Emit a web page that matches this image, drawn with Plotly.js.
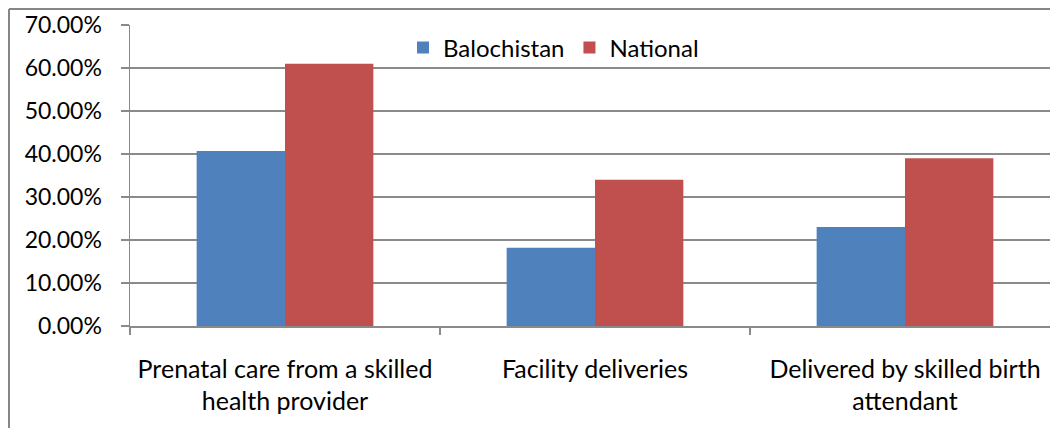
<!DOCTYPE html>
<html>
<head>
<meta charset="utf-8">
<script src="https://cdn.plot.ly/plotly-3.0.1.min.js"></script>
<style>
  html, body { margin: 0; padding: 0; background: #fff; }
  #chart { width: 1050px; height: 428px; }
</style>
</head>
<body>
<div id="chart"></div>
<script>
const categories = [
  "Prenatal care from a skilled<br>health provider",
  "Facility deliveries",
  "Delivered by skilled birth<br>attendant"
];
const balochistan = [0.407, 0.182, 0.230];
const national = [0.610, 0.340, 0.390];
const seriesNames = ["Balochistan", "National"];
const yTicks = [0, 0.1, 0.2, 0.3, 0.4, 0.5, 0.6, 0.7];

const FONT = "Lato, 'Open Sans', sans-serif";
const GRID = "#8a8a8a";

const traces = [
  { type: "bar", name: seriesNames[0], x: categories, y: balochistan,
    marker: { color: "#4F81BD", line: { width: 0 } }, hoverinfo: "skip" },
  { type: "bar", name: seriesNames[1], x: categories, y: national,
    marker: { color: "#C0504D", line: { width: 0 } }, hoverinfo: "skip" }
];

const L = 130, R = 0, T = 25, B = 102;
const W = 1050, H = 428;
const pw = W - L - R, ph = H - T - B;

const layout = {
  width: W, height: H,
  margin: { l: L, r: R, t: T, b: B, pad: 0 },
  paper_bgcolor: "#fff", plot_bgcolor: "#fff",
  font: { family: FONT, color: "#000", size: 22 },
  barmode: "group",
  bargap: 0.43,
  bargroupgap: 0,
  showlegend: true,
  legend: {
    orientation: "h",
    x: (403 - L) / pw, xanchor: "left",
    y: (326 - 48) / ph, yanchor: "middle",
    font: { family: FONT, size: 24, color: "#000" },
    bgcolor: "rgba(0,0,0,0)",
    itemwidth: 30,
    tracegroupgap: 0
  },
  xaxis: {
    type: "category",
    range: [-0.5, 2.5 - 10 / 310],
    showgrid: false,
    showline: true, linecolor: GRID, linewidth: 1.5,
    ticks: "outside", tickson: "boundaries", ticklen: 7, tickcolor: GRID, tickwidth: 1.5,
    tickfont: { family: FONT, size: 25, color: "#000" },
    ticklabelstandoff: 20,
    fixedrange: true
  },
  yaxis: {
    range: [0, 0.7],
    tickvals: yTicks,
    tickformat: ".2%",
    showgrid: true, gridcolor: GRID, gridwidth: 1.5,
    zeroline: false,
    showline: true, linecolor: GRID, linewidth: 1.5,
    ticks: "outside", ticklen: 8, tickcolor: GRID, tickwidth: 1.5,
    tickfont: { family: FONT, size: 23, color: "#000" },
    ticklabelstandoff: 14,
    fixedrange: true
  },
  shapes: [
    { type: "line", xref: "paper", yref: "paper",
      x0: (9 - L) / pw, x1: (9 - L) / pw, y0: (326 - 9) / ph, y1: (326 - 440) / ph,
      line: { color: "#868686", width: 2 } },
    { type: "line", xref: "paper", yref: "paper",
      x0: (9 - L) / pw, x1: 1.05, y0: (326 - 9) / ph, y1: (326 - 9) / ph,
      line: { color: "#868686", width: 2 } }
  ]
};

Plotly.newPlot("chart", traces, layout, { staticPlot: true, displayModeBar: false });
</script>
</body>
</html>
